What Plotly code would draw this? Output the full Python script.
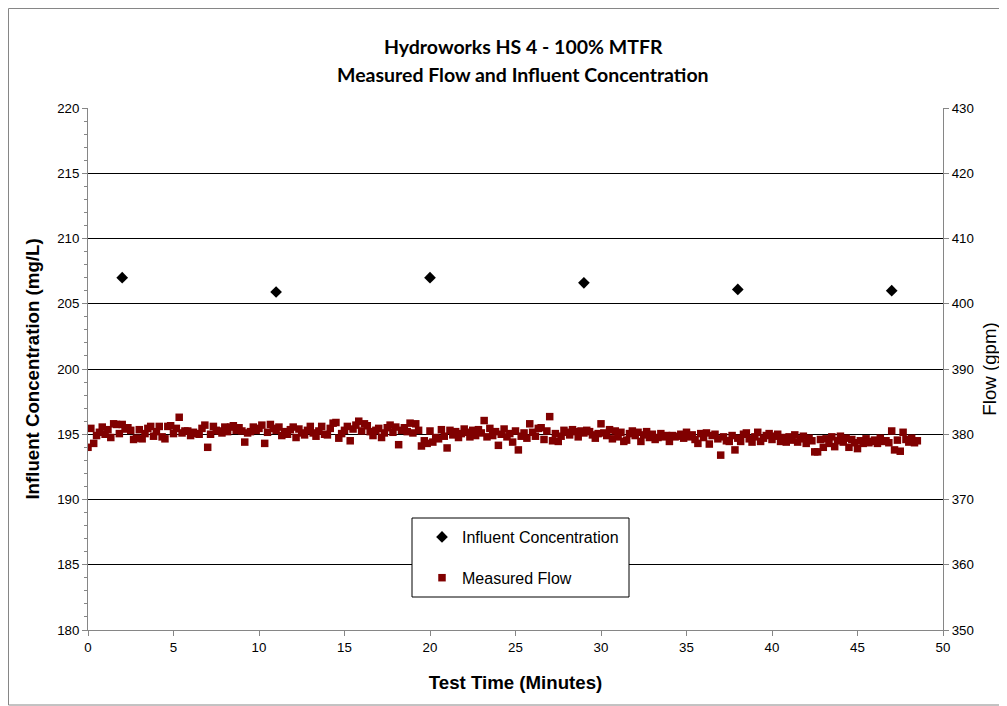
import plotly.graph_objects as go

# Influent concentration samples
conc_time = [2, 11, 20, 29, 38, 47]
conc_vals = [207.0, 205.9, 207.0, 206.6, 206.1, 206.0]

# Measured flow (gpm), logged every 10 seconds from 0 to 48.5 minutes
flow_vals = [
    378.0, 380.9, 378.6, 379.8, 380.3, 381.1,
    380.0, 380.7, 379.5, 381.6, 381.5, 380.1,
    381.5, 380.8, 381.0, 380.6, 379.2, 379.4,
    380.7, 379.3, 380.1, 380.9, 381.2, 379.7,
    380.4, 381.2, 379.6, 379.3, 381.2, 381.3,
    380.1, 380.9, 382.6, 380.2, 380.5, 380.5,
    379.8, 380.3, 380.1, 380.0, 380.9, 381.4,
    378.0, 380.0, 381.2, 380.6, 380.5, 380.2,
    381.1, 380.4, 381.1, 381.3, 380.6, 381.0,
    380.5, 378.8, 380.2, 380.4, 381.1, 380.6,
    380.9, 381.4, 378.6, 380.3, 381.5, 380.9,
    380.6, 381.1, 379.8, 380.4, 380.0, 380.7,
    381.1, 379.5, 380.8, 380.2, 379.9, 380.6,
    381.2, 380.2, 379.7, 380.5, 381.2, 380.0,
    379.9, 380.9, 381.7, 381.8, 379.4, 380.1,
    380.6, 381.2, 379.0, 380.8, 381.4, 382.0,
    380.5, 381.6, 381.3, 380.4, 379.8, 380.6,
    380.9, 379.5, 380.2, 381.0, 381.4, 380.3,
    381.1, 378.4, 380.6, 381.0, 380.4, 381.7,
    380.2, 381.6, 380.6, 378.2, 379.0, 378.6,
    380.5, 378.8, 379.5, 379.3, 380.7, 379.7,
    377.9, 380.6, 379.9, 380.4, 379.5, 380.1,
    380.8, 380.3, 379.6, 380.6, 379.8, 380.7,
    380.2, 382.1, 379.6, 380.9, 379.8, 380.4,
    378.3, 380.0, 380.8, 379.6, 380.1, 378.8,
    380.5, 377.6, 379.7, 380.2, 379.4, 381.6,
    380.3, 379.7, 380.9, 381.0, 379.2, 380.5,
    382.7, 379.0, 380.1, 378.9, 379.7, 380.6,
    380.3, 379.9, 380.7, 380.4, 379.6, 380.5,
    380.2, 380.6, 380.4, 379.9, 379.4, 380.1,
    381.6, 380.2, 379.8, 380.7, 379.3, 380.5,
    379.6, 380.3, 378.9, 379.1, 380.1, 380.5,
    379.8, 380.3, 378.9, 379.9, 380.4, 379.5,
    380.0, 379.2, 379.5, 380.1, 379.6, 379.8,
    378.9, 379.8, 379.6, 379.7, 380.0, 379.4,
    380.3, 379.6, 379.9, 379.2, 378.6, 380.1,
    379.5, 380.2, 378.5, 379.8, 380.0, 379.3,
    376.8, 379.6, 379.0, 378.9, 379.8, 377.6,
    379.4, 378.9, 380.0, 380.2, 379.3, 378.8,
    379.6, 380.3, 378.9, 379.4, 379.8, 380.1,
    379.2, 379.7, 380.0, 378.9, 379.5, 378.8,
    379.6, 379.1, 379.9, 378.8, 379.3, 379.7,
    378.6, 379.4, 379.0, 377.3, 377.3, 379.2,
    378.0, 379.3, 378.6, 379.6, 378.1, 379.0,
    379.7, 378.8, 379.4, 378.0, 379.2, 378.7,
    377.8, 379.0, 378.6, 379.3, 378.7, 378.9,
    379.1, 378.6, 379.4, 378.9, 379.0, 378.7,
    380.5, 377.6, 379.1, 377.4, 380.3, 379.2,
    378.8, 379.4, 378.7, 379.0,
]
flow_time = [i / 6 for i in range(len(flow_vals))]

title_line1 = "Hydroworks HS 4 - 100% MTFR"
title_line2 = "Measured Flow and Influent Concentration"

# The page body adds an 8px offset; work in screenshot pixels and shift.
OFF = 8
W, H = 1007 - OFF, 706 - OFF
L, R, T, B = 88 - OFF, 943 - OFF, 108 - OFF, 630 - OFF

def px_x(px):
    return (px - OFF - L) / (R - L)

def px_y(py):
    return (B - (py - OFF)) / (B - T)

ARIAL = "Liberation Sans, Arial"

fig = go.Figure()
fig.add_trace(go.Scatter(
    x=conc_time, y=conc_vals, mode="markers", name="Influent Concentration",
    legendgroup="a",
    marker=dict(symbol="diamond", size=9, color="black"),
    yaxis="y",
))
fig.add_trace(go.Scatter(
    x=flow_time, y=flow_vals, mode="markers", name="Measured Flow",
    legendgroup="b",
    marker=dict(symbol="square", size=7.5, color="#800000",
                line=dict(width=0)),
    yaxis="y2",
))

axis_font = dict(family=ARIAL, size=13.3, color="black")
fig.update_layout(
    width=W, height=H,
    margin=dict(l=L, r=W - R, t=T, b=H - B, autoexpand=False),
    paper_bgcolor="white", plot_bgcolor="white",
    showlegend=True,
    legend=dict(
        x=px_x(422), y=px_y(520), xanchor="left", yanchor="top",
        bgcolor="rgba(0,0,0,0)", borderwidth=0,
        font=dict(family=ARIAL, size=16, color="black"),
        tracegroupgap=17,
    ),
    xaxis=dict(
        range=[0, 50], dtick=5, tick0=0,
        showgrid=False, zeroline=False,
        showline=True, linecolor="#868686", linewidth=1,
        ticks="outside", ticklen=5, tickcolor="#868686",
        tickfont=axis_font,
        title=dict(text="<b>Test Time (Minutes)</b>",
                   font=dict(family=ARIAL, size=18.67, color="black"),
                   standoff=21),
    ),
    yaxis=dict(
        range=[180, 220], dtick=5, tick0=180,
        showgrid=True, gridcolor="black", gridwidth=1,
        zeroline=False,
        showline=True, linecolor="#868686", linewidth=1,
        ticks="outside", ticklen=5, tickcolor="#868686",
        minor=dict(dtick=1, ticks="outside", ticklen=3, tickcolor="#868686", showgrid=False),
        tickfont=axis_font,
        title=dict(text="<b>Influent Concentration (mg/L)</b>",
                   font=dict(family=ARIAL, size=18.67, color="black"),
                   standoff=12),
    ),
    yaxis2=dict(
        range=[350, 430], dtick=10, tick0=350,
        overlaying="y", side="right",
        showgrid=False, zeroline=False,
        showline=True, linecolor="#868686", linewidth=1,
        ticks="outside", ticklen=5, tickcolor="#868686",
        tickfont=axis_font,
        title=dict(text="Flow (gpm)",
                   font=dict(family=ARIAL, size=18.67, color="black"),
                   standoff=10),
    ),
    shapes=[
        dict(type="rect", xref="paper", yref="paper",
             x0=px_x(8.5), x1=px_x(1000), y0=px_y(705), y1=px_y(8.5),
             line=dict(color="#868686", width=1), fillcolor="rgba(0,0,0,0)",
             layer="below"),
        dict(type="rect", xref="paper", yref="paper",
             x0=px_x(412), x1=px_x(629), y0=px_y(597), y1=px_y(518),
             line=dict(color="black", width=1), fillcolor="white",
             layer="above"),
    ],
    annotations=[
        dict(text="<b>" + title_line1 + "</b>", xref="paper", yref="paper",
             x=px_x(523), y=px_y(47), showarrow=False, xanchor="center", yanchor="middle",
             font=dict(family="Lato, Open Sans", size=19.5, color="black")),
        dict(text="<b>" + title_line2 + "</b>", xref="paper", yref="paper",
             x=px_x(523), y=px_y(75), showarrow=False, xanchor="center", yanchor="middle",
             font=dict(family="Lato, Open Sans", size=19.5, color="black")),
    ],
)

fig.write_html("out.html")
